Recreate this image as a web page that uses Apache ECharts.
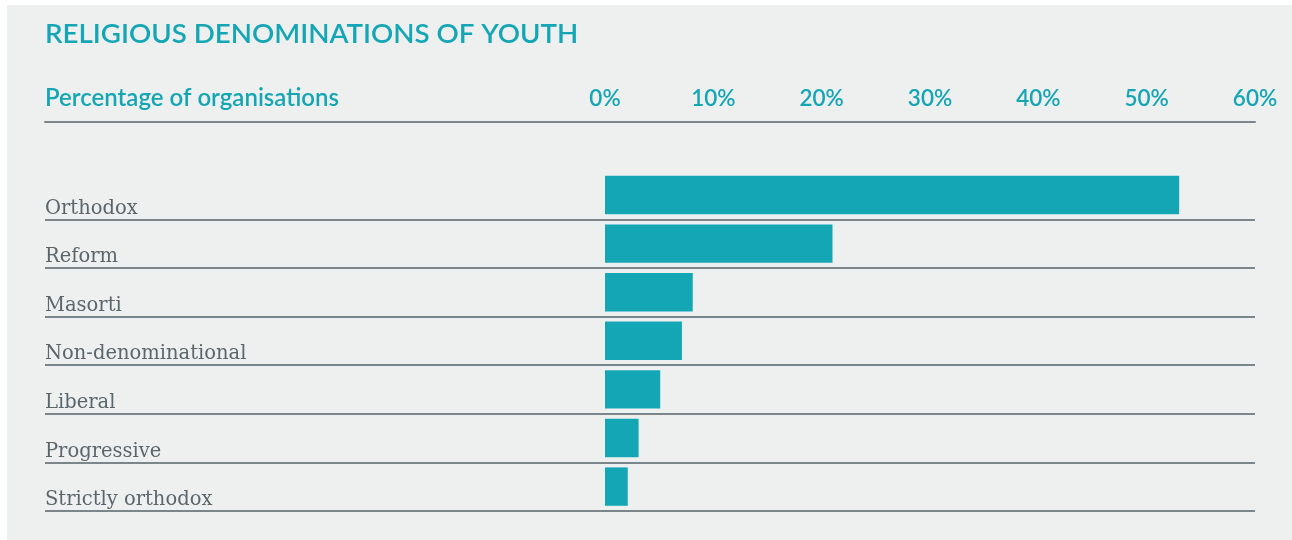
<!DOCTYPE html>
<html>
<head>
<meta charset="utf-8">
<script src="https://cdn.jsdelivr.net/npm/echarts@6/dist/echarts.min.js"></script>
<style>
  html, body { margin: 0; padding: 0; background: #ffffff; }
  #chart { width: 1292px; height: 540px; }
</style>
</head>
<body>
<div id="chart"></div>
<script>
// Religious denominations of youth organisations (% of organisations)
const categories = [
  'Orthodox',
  'Reform',
  'Masorti',
  'Non-denominational',
  'Liberal',
  'Progressive',
  'Strictly orthodox'
];
const shares = [53.0, 21.0, 8.1, 7.1, 5.1, 3.1, 2.1];
const axisMax = 60;
const axisStep = 10;

const TEAL = '#15a6b5';
const RULE = '#7b868c';
const SANS = 'Lato, "Open Sans", sans-serif';
const SERIF = '"DejaVu Serif", "Liberation Serif", serif';

const plotTop = 170.7;
const plotBottom = 29.1;
const plotRight = 37;

const chart = echarts.init(document.getElementById('chart'), null, { renderer: 'canvas' });

chart.setOption({
  backgroundColor: '#ffffff',
  animation: false,
  graphic: [{
    type: 'rect',
    silent: true,
    z: -10,
    shape: { x: 7, y: 5, width: 1292, height: 540 },
    style: { fill: '#eef0ef' }
  }],
  title: [{
    text: 'RELIGIOUS DENOMINATIONS OF YOUTH',
    left: 45,
    top: 20,
    padding: 0,
    textStyle: { fontFamily: SANS, fontSize: 27.7, fontWeight: 600, color: TEAL }
  }, {
    text: 'Percentage of organisations',
    left: 45,
    top: 86.5,
    padding: 0,
    textStyle: { fontFamily: SANS, fontSize: 24, fontWeight: 600, color: TEAL }
  }],
  grid: [
    // row labels and row rules, full width
    { left: 45, right: plotRight, top: plotTop, bottom: plotBottom, containLabel: false },
    // bars
    { left: 605, right: plotRight, top: plotTop, bottom: plotBottom, containLabel: false }
  ],
  xAxis: [{
    gridIndex: 0,
    type: 'value',
    min: 0,
    max: 1,
    position: 'top',
    offset: plotTop - 121.3,
    axisLine: { show: true, lineStyle: { color: RULE, width: 2 } },
    axisTick: { show: false },
    axisLabel: { show: false },
    splitLine: { show: false }
  }, {
    gridIndex: 1,
    type: 'value',
    min: 0,
    max: axisMax,
    interval: axisStep,
    position: 'top',
    offset: 52.5,
    axisLine: { show: false },
    axisTick: { show: false },
    splitLine: { show: false },
    axisLabel: {
      margin: 8,
      formatter: '{value}%',
      fontFamily: SANS,
      fontSize: 22.5,
      fontWeight: 600,
      color: TEAL
    }
  }],
  yAxis: [{
    gridIndex: 0,
    type: 'category',
    data: categories,
    inverse: true,
    axisLine: { show: false },
    axisTick: { show: false },
    axisLabel: {
      align: 'left',
      verticalAlign: 'top',
      lineHeight: 27,
      margin: 0,
      fontFamily: SERIF,
      fontSize: 19.5,
      color: '#5b666c'
    },
    splitLine: {
      show: true,
      interval: function (index) { return index > 0; },
      lineStyle: { color: RULE, width: 2 }
    }
  }, {
    gridIndex: 1,
    type: 'category',
    data: categories,
    inverse: true,
    show: false
  }],
  series: [{
    type: 'bar',
    xAxisIndex: 1,
    yAxisIndex: 1,
    data: shares,
    barCategoryGap: '21%',
    itemStyle: { color: TEAL },
    silent: true
  }]
});
</script>
</body>
</html>
